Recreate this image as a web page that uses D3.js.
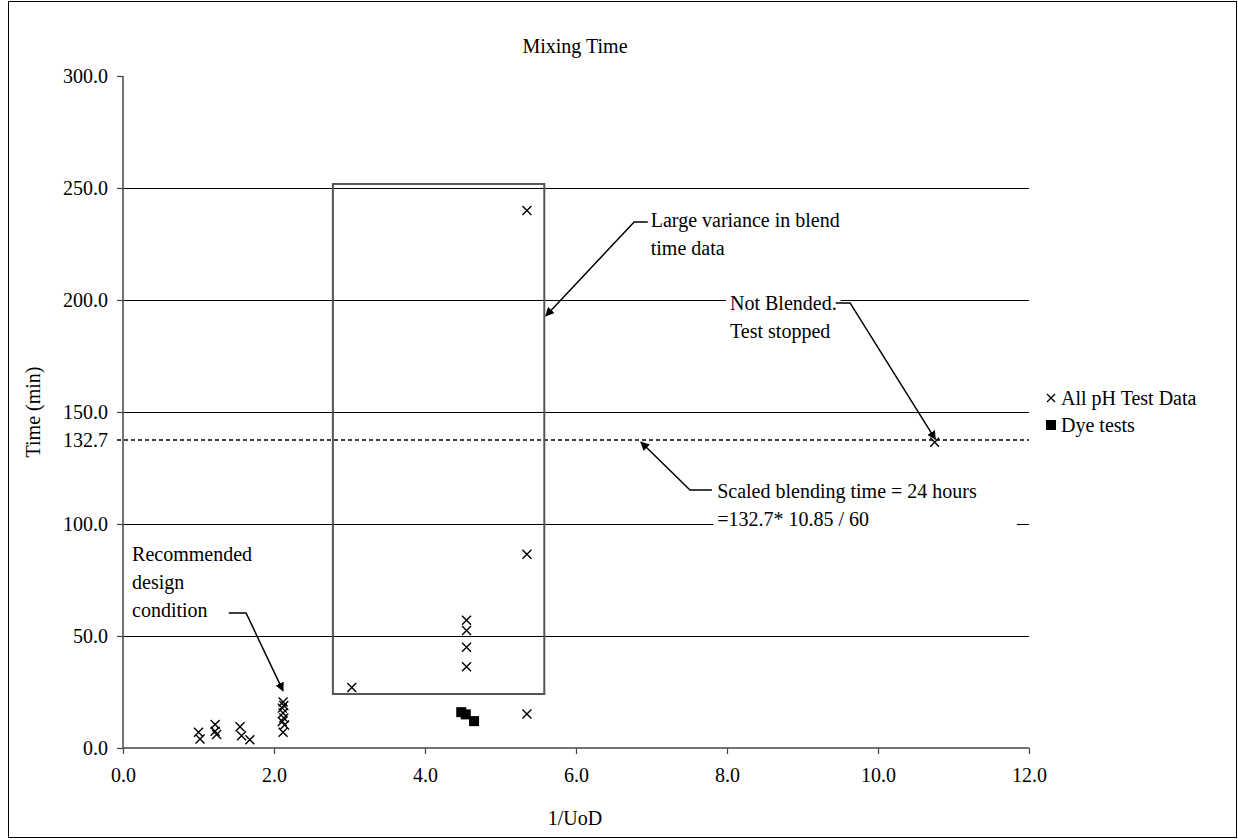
<!DOCTYPE html>
<html><head><meta charset="utf-8">
<script src="https://cdn.jsdelivr.net/npm/d3@7"></script>
<style>
html,body{margin:0;padding:0;background:#fff;}
svg text{font-family:"Liberation Serif","Times New Roman",serif;font-size:20px;fill:#000;}
</style></head>
<body><svg id="c" width="1238" height="840"></svg>
<script>
// ---- data ----
const title = "Mixing Time";
const xLabel = "1/UoD";
const yLabel = "Time (min)";
const xTicks = [0, 2, 4, 6, 8, 10, 12];
const yTicks = [0, 50, 100, 150, 200, 250, 300];
const phX = [1.00, 1.02, 1.22, 1.22, 1.24, 1.55, 1.57, 1.68, 2.12, 2.13, 2.11, 2.12, 2.13, 2.11, 2.14, 2.12, 3.03, 4.55, 4.55, 4.55, 4.55, 5.35, 5.35, 5.35, 10.75];
const phY = [7.0, 4.0, 10.5, 7.5, 6.0, 9.5, 5.5, 3.7, 20.5, 19.0, 17.8, 15.6, 13.4, 11.8, 10.3, 7.0, 27.0, 57.0, 52.5, 45.0, 36.3, 15.2, 86.5, 240.0, 136.5];
const dyeX = [4.48, 4.54, 4.65];
const dyeY = [16.0, 15.0, 12.0];
const refValue = 137.5;       // drawn position of the scaled blending-time line
const refLabel = "132.7";
const legendNames = ["All pH Test Data", "Dye tests"];
// annotation box in data units [x0, x1, y0, y1]
const boxX = [2.78, 5.58];
const boxY = [24.1, 251.8];
// annotation texts (data units of first line) and leaders
const notes = [
  {lines:["Large variance in blend","time data"], x:6.99, y:235.7, path:[[6.95,234.8],[6.77,234.8],[5.60,192.9]], bg:0},
  {lines:["Not Blended.","Test stopped"], x:8.04, y:198.7, path:[[9.44,198.7],[9.63,198.7],[10.76,137.8]], bg:4},
  {lines:["Scaled blending time = 24 hours","=132.7* 10.85 / 60"], x:7.87, y:114.7, path:[[7.80,115.2],[7.51,115.2],[6.86,136.6]], bg:40},
  {lines:["Recommended","design","condition"], x:0.12, y:86.6, path:[[1.40,60.3],[1.63,60.3],[2.12,25.5]], bg:0}
];

// ---- drawing ----
const svg = d3.select("#c");
svg.append("rect").attr("x",8.5).attr("y",1.5).attr("width",1228).attr("height",836)
  .attr("fill","#fff").attr("stroke","#000").attr("stroke-width",1);

const x = d3.scaleLinear().domain([0,12]).range([123,1029]);
const y = d3.scaleLinear().domain([0,300]).range([748,76]);

svg.append("defs").append("marker").attr("id","ah").attr("viewBox","0 0 10 10")
  .attr("refX",9).attr("refY",5).attr("markerWidth",9).attr("markerHeight",9)
  .attr("markerUnits","userSpaceOnUse").attr("orient","auto")
  .append("path").attr("d","M0,0 L10,5 L0,10 z").attr("fill","#000");

// gridlines
svg.append("g").selectAll("line").data(yTicks.filter(d=>d>0 && d<300)).join("line")
  .attr("x1",x(0)).attr("x2",x(12)).attr("y1",d=>Math.round(y(d))+0.5).attr("y2",d=>Math.round(y(d))+0.5)
  .attr("stroke","#000").attr("stroke-width",1);

// axes
const yAxis = svg.append("g").attr("transform",`translate(${x(0)},0)`)
  .call(d3.axisLeft(y).tickValues(yTicks).tickFormat(d3.format(".1f")).tickSize(6).tickPadding(9));
const xAxis = svg.append("g").attr("transform",`translate(0,${y(0)})`)
  .call(d3.axisBottom(x).tickValues(xTicks).tickFormat(d3.format(".1f")).tickSize(6).tickPadding(14));
[yAxis,xAxis].forEach(a=>{
  a.select(".domain").attr("stroke","#444").attr("stroke-width",1.5);
  a.selectAll(".tick line").attr("stroke","#444").attr("stroke-width",1.2);
  a.selectAll("text").attr("font-size",null).attr("fill","#000");
  a.attr("font-family",null).attr("font-size",null);
});
xAxis.select(".domain").attr("d",`M${x(0)},0H${x(12)}`);
yAxis.select(".domain").attr("d",`M0,${y(0)}V${y(300)}`);

// reference dashed line
svg.append("line").attr("x1",x(0)-6).attr("x2",x(12)).attr("y1",y(refValue)).attr("y2",y(refValue))
  .attr("stroke","#000").attr("stroke-width",1.5).attr("stroke-dasharray","4,3");
svg.append("text").attr("x",x(0)-15).attr("y",y(refValue)).attr("dy","0.35em")
  .attr("text-anchor","end").text(refLabel);

// annotation box
svg.append("rect").attr("x",x(boxX[0])).attr("y",y(boxY[1]))
  .attr("width",x(boxX[1])-x(boxX[0])).attr("height",y(boxY[0])-y(boxY[1]))
  .attr("fill","none").attr("stroke","#555").attr("stroke-width",2);

// points
const xm = (sx,sy)=>`M${sx-4.5},${sy-4.5}L${sx+4.5},${sy+4.5}M${sx-4.5},${sy+4.5}L${sx+4.5},${sy-4.5}`;
svg.append("g").selectAll("path").data(phX.map((d,i)=>[d,phY[i]])).join("path")
  .attr("d",d=>xm(x(d[0]),y(d[1]))).attr("stroke","#000").attr("stroke-width",1.4).attr("fill","none");
svg.append("g").selectAll("rect").data(dyeX.map((d,i)=>[d,dyeY[i]])).join("rect")
  .attr("x",d=>x(d[0])-5).attr("y",d=>y(d[1])-5).attr("width",10).attr("height",10).attr("fill","#000");

// annotations
const lh = 28;
notes.forEach(n=>{
  const g = svg.append("g");
  const bg = n.bg ? g.append("rect").attr("fill","#fff") : null;
  const texts = n.lines.map((t,i)=>g.append("text").attr("x",x(n.x)).attr("y",y(n.y)+i*lh).attr("dy","0.35em").text(t));
  if(bg){
    const w = d3.max(texts,t=>t.node().getComputedTextLength());
    bg.attr("x",x(n.x)-4).attr("y",y(n.y)-14).attr("width",w+4+n.bg).attr("height",lh*n.lines.length);
  }
  g.append("path").attr("d",d3.line()(n.path.map(p=>[x(p[0]),y(p[1])])))
    .attr("fill","none").attr("stroke","#000").attr("stroke-width",1.5).attr("marker-end","url(#ah)");
});

// titles
svg.append("text").attr("x",575).attr("y",46).attr("dy","0.35em").attr("text-anchor","middle").text(title);
svg.append("text").attr("x",575).attr("y",818).attr("dy","0.35em").attr("text-anchor","middle").text(xLabel);
svg.append("text").attr("transform","translate(33,412) rotate(-90)").attr("dy","0.35em").attr("text-anchor","middle").text(yLabel);

// legend
const lg = svg.append("g");
legendNames.forEach((name,i)=>{
  const ly = 398 + i*27, lx = 1051;
  if(i===0) lg.append("path").attr("d",`M${lx-4},${ly-4}L${lx+4},${ly+4}M${lx-4},${ly+4}L${lx+4},${ly-4}`).attr("stroke","#000").attr("stroke-width",1.3);
  else lg.append("rect").attr("x",lx-5).attr("y",ly-5).attr("width",10).attr("height",10).attr("fill","#000");
  lg.append("text").attr("x",lx+10).attr("y",ly).attr("dy","0.35em").text(name);
});
</script></body></html>
